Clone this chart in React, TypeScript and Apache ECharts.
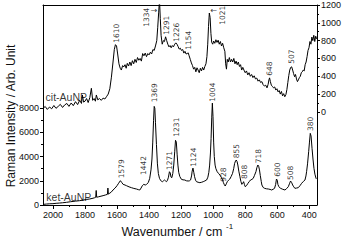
import React, { useEffect, useRef } from 'react';
import * as echarts from 'echarts';

// ---------- axis ticks ----------
const xTicks = [400, 600, 800, 1000, 1200, 1400, 1600, 1800, 2000];
const xMinorTicks = [500, 700, 900, 1100, 1300, 1500, 1700, 1900];
const leftTicks = [0, 2000, 4000, 6000, 8000];
const leftMinorTicks = [1000, 3000, 5000, 7000];
const rightTicks = [0, 200, 400, 600, 800, 1000, 1200];
const rightMinorTicks = [100, 300, 500, 700, 900, 1100];

// ---------- spectra: [wavenumber, intensity] ----------
const ketSpectrum = [
  [2062, 50], [2040, 80], [2020, 100], [2000, 110], [1980, 140], [1960, 160], [1940, 185], [1916, 220],
  [1890, 270], [1860, 320], [1833, 357], [1810, 410], [1790, 460], [1771, 495], [1750, 560], [1740, 600],
  [1733, 640], [1730, 1200], [1727, 640], [1715, 680], [1700, 730], [1687, 771], [1672, 830], [1660, 880],
  [1657, 1400], [1654, 900], [1645, 980], [1635, 1080], [1625, 1239], [1612, 1400], [1600, 1597], [1590, 1800],
  [1579, 2010], [1570, 1850], [1562, 1707], [1550, 1650], [1541, 1597], [1525, 1500], [1510, 1432], [1495, 1370],
  [1479, 1322], [1465, 1260], [1458, 1239], [1450, 1400], [1442, 1600], [1433, 1707], [1424, 1650], [1416, 1707],
  [1405, 1850], [1396, 2203], [1388, 2900], [1382, 3800], [1377, 5200], [1372, 7000], [1368, 8150], [1364, 8000],
  [1360, 6800], [1354, 5000], [1348, 3400], [1342, 2600], [1335, 2200], [1329, 2066], [1322, 1950], [1316, 1928],
  [1310, 2000], [1304, 2066], [1298, 2000], [1291, 1928], [1285, 2050], [1279, 2300], [1273, 2750], [1268, 2650],
  [1263, 2300], [1258, 2258], [1252, 2600], [1246, 3305], [1240, 4400], [1235, 5350], [1230, 5200], [1225, 4200],
  [1220, 3300], [1215, 2700], [1208, 2350], [1198, 2120], [1188, 2080], [1177, 2066], [1167, 2000], [1156, 1983],
  [1148, 2000], [1141, 2066], [1135, 2400], [1131, 2800], [1126, 3050], [1121, 2700], [1116, 2341], [1110, 2050],
  [1104, 1928], [1094, 1880], [1083, 1845], [1072, 1880], [1062, 1928], [1052, 1990], [1041, 2066], [1033, 2300],
  [1027, 2700], [1022, 3300], [1017, 4300], [1013, 5500], [1009, 7200], [1005, 8420], [1001, 7300], [997, 5200],
  [993, 4000], [988, 3300], [983, 3000], [975, 2754], [966, 2600], [958, 2479], [950, 2300], [941, 2066],
  [936, 1850], [931, 1700], [925, 1569], [918, 1750], [912, 1928], [904, 2050], [896, 2148], [888, 2350],
  [879, 2616], [872, 3000], [866, 3443], [860, 3650], [856, 3718], [851, 3600], [846, 3305], [840, 2800],
  [833, 2341], [827, 1950], [821, 1707], [815, 1800], [810, 1928], [805, 1700], [800, 1514], [792, 1600],
  [783, 1790], [775, 1930], [767, 2066], [758, 2120], [750, 2203], [742, 2450], [733, 2754], [727, 3100],
  [721, 3305], [716, 3200], [711, 2900], [706, 2450], [700, 1950], [696, 1652], [688, 1450], [679, 1377],
  [668, 1340], [656, 1322], [645, 1290], [635, 1239], [626, 1300], [617, 1377], [610, 1700], [605, 2148],
  [600, 2050], [596, 1700], [590, 1514], [584, 1420], [579, 1377], [566, 1300], [552, 1239], [542, 1350],
  [531, 1514], [524, 1750], [517, 1983], [510, 1850], [504, 1652], [497, 1500], [490, 1377], [480, 1400],
  [469, 1432], [458, 1600], [448, 1790], [437, 1950], [427, 2066], [421, 2400], [417, 2754], [411, 3400],
  [404, 4407], [399, 5200], [394, 5922], [389, 5700], [383, 4683], [377, 3800], [371, 3030], [365, 2550],
  [358, 2203], [354, 2150],
];

const citSpectrum = [
  [2062, 42], [2048, 60], [2035, 28], [2021, 55], [2008, 35], [1994, 72], [1981, 40], [1967, 62], [1954, 85],
  [1940, 50], [1927, 78], [1913, 95], [1900, 62], [1886, 100], [1873, 70], [1859, 115], [1846, 82], [1833, 130],
  [1822, 95], [1816, 190], [1809, 110], [1800, 120], [1790, 150], [1780, 105], [1770, 160], [1760, 265],
  [1752, 130], [1743, 150], [1735, 120], [1729, 190], [1720, 135], [1710, 150], [1698, 130], [1687, 155],
  [1676, 145], [1666, 170], [1655, 200], [1645, 260], [1635, 390], [1625, 560], [1617, 700], [1610, 755],
  [1603, 740], [1596, 650], [1588, 540], [1580, 490], [1573, 470], [1565, 520], [1558, 505], [1550, 530],
  [1543, 490], [1536, 545], [1528, 515], [1520, 560], [1512, 520], [1504, 575], [1496, 540], [1488, 590],
  [1480, 555], [1472, 610], [1464, 580], [1456, 600], [1448, 570], [1440, 655], [1432, 630], [1424, 660],
  [1416, 620], [1408, 655], [1400, 640], [1392, 670], [1384, 650], [1376, 700], [1368, 690], [1360, 740],
  [1352, 800], [1346, 950], [1340, 1120], [1335, 1260], [1330, 1050], [1325, 860], [1318, 760], [1311, 800],
  [1304, 790], [1297, 843], [1290, 800], [1283, 760], [1276, 730], [1269, 745], [1262, 720], [1255, 745],
  [1248, 730], [1240, 760], [1233, 775], [1226, 760], [1219, 735], [1212, 705], [1205, 715], [1198, 690],
  [1190, 700], [1183, 660], [1176, 680], [1169, 650], [1162, 655], [1156, 663], [1150, 630], [1143, 590],
  [1136, 550], [1129, 520], [1122, 480], [1115, 500], [1108, 450], [1101, 495], [1094, 470], [1087, 440],
  [1080, 490], [1073, 460], [1066, 500], [1059, 470], [1052, 510], [1045, 540], [1039, 620], [1034, 760],
  [1029, 960], [1024, 1110], [1019, 1060], [1014, 880], [1009, 780], [1003, 760], [997, 795], [990, 770],
  [983, 810], [976, 780], [969, 805], [962, 760], [955, 790], [948, 740], [941, 770], [934, 720], [927, 680],
  [922, 540], [917, 480], [912, 590], [906, 560], [899, 610], [892, 560], [885, 590], [878, 560], [871, 600],
  [864, 540], [857, 570], [850, 530], [843, 560], [836, 510], [829, 530], [822, 470], [815, 500], [808, 470],
  [800, 440], [792, 460], [784, 415], [776, 440], [768, 400], [760, 420], [752, 385], [744, 405], [736, 370],
  [728, 380], [720, 345], [712, 360], [704, 330], [696, 340], [688, 305], [680, 290], [672, 300], [664, 270],
  [657, 310], [652, 360], [648, 382], [643, 340], [637, 300], [630, 285], [623, 270], [616, 280], [609, 245],
  [602, 260], [595, 225], [588, 240], [581, 200], [574, 230], [567, 180], [560, 205], [553, 170], [546, 195],
  [540, 250], [534, 330], [528, 410], [522, 470], [516, 500], [510, 506], [504, 470], [498, 430], [492, 395],
  [486, 420], [480, 370], [474, 340], [468, 360], [462, 385], [456, 400], [450, 440], [444, 450], [438, 470],
  [432, 460], [426, 530], [420, 560], [414, 620], [408, 690], [402, 720], [396, 790], [390, 760], [384, 840],
  [378, 800], [372, 860], [366, 790], [360, 850], [354, 820],
];

// ---------- peak annotations: [wavenumber, intensity at label foot, text] ----------
const ketPeakLabels: [number, number, string][] = [
  [1575, 2204, '1579'], [1437, 2479, '1442'], [1364, 8485, '1369'], [1271, 2892, '1271'],
  [1229, 5647, '1231'], [1125, 3168, '1124'], [1004, 8540, '1004'], [933, 1928, '928'],
  [854, 3856, '855'], [806, 2149, '808'], [719, 3443, '718'], [600, 2341, '600'],
  [517, 2066, '508'], [392, 6115, '380'],
];
const citPeakLabels: [number, number, string][] = [
  [1604, 776, '1610'], [1416, 955, '1334'], [1291, 865, '1291'], [1229, 787, '1226'],
  [1156, 697, '1154'], [941, 978, '1021'], [646, 405, '648'], [510, 540, '507'],
];
const citArrows: [number, number, string][] = [
  [1369, 1135, '\u2192'], [996, 1135, '\u2190'],
];
const sampleNames = ['cit-AuNP', 'ket-AuNP'];
const citNamePos = [2046, 169];
const ketNamePos = [2041, 620];

const X_MIN = 352;
const X_MAX = 2062;
const LEFT_MIN = 0;
const LEFT_MAX = 16530;
const RIGHT_MIN = -1045;
const RIGHT_MAX = 1200;

const FONT = '"Liberation Sans", Arial, sans-serif';
const BLACK = '#000';
const plain = (v: number) => String(v);

export default function App() {
  const ref = useRef<HTMLDivElement>(null);

  useEffect(() => {
    if (!ref.current) return;
    const chart = echarts.init(ref.current, null, { renderer: 'svg' });

    const axisBase = {
      type: 'value',
      splitLine: { show: false },
      axisLine: { show: false, onZero: false },
    };
    const lineStyle = { color: BLACK, width: 1 };
    const tickLabel = { show: true, fontSize: 9, color: '#111', fontFamily: FONT, formatter: plain };

    const peakLabelSeries = (data: [number, number, string][], yAxisIndex: number) => ({
      type: 'scatter',
      xAxisIndex: 0,
      yAxisIndex,
      symbolSize: 0,
      silent: true,
      itemStyle: { color: BLACK },
      data: data.map(([w, v, t]) => ({ value: [w, v], name: t })),
      label: {
        show: true,
        position: 'top',
        distance: 0,
        rotate: 90,
        align: 'left',
        verticalAlign: 'middle',
        formatter: '{b}',
        fontFamily: '"DejaVu Sans", sans-serif',
        fontSize: 7.5,
        color: BLACK,
      },
    });

    const option: any = {
      animation: false,
      backgroundColor: '#fff',
      textStyle: { fontFamily: FONT },
      grid: { left: 43, right: 28, top: 5, bottom: 37, outerBoundsMode: 'none' },
      xAxis: [
        {
          ...axisBase,
          position: 'bottom',
          min: X_MIN,
          max: X_MAX,
          inverse: true,
          axisLine: { show: true, onZero: false, lineStyle },
          axisTick: { show: true, length: 4, customValues: xTicks, lineStyle },
          axisLabel: { ...tickLabel, customValues: xTicks, margin: 5 },
        },
        {
          ...axisBase,
          position: 'bottom',
          min: X_MIN,
          max: X_MAX,
          inverse: true,
          axisTick: { show: true, length: 2, customValues: xMinorTicks, lineStyle },
          axisLabel: { show: false },
        },
        {
          ...axisBase,
          position: 'top',
          min: X_MIN,
          max: X_MAX,
          inverse: true,
          axisLine: { show: true, onZero: false, lineStyle },
          axisTick: { show: false },
          axisLabel: { show: false },
        },
      ],
      yAxis: [
        {
          ...axisBase,
          position: 'left',
          min: LEFT_MIN,
          max: LEFT_MAX,
          axisLine: { show: true, onZero: false, lineStyle },
          axisTick: { show: true, length: 3, customValues: leftTicks, lineStyle },
          axisLabel: { ...tickLabel, customValues: leftTicks, margin: 4 },
        },
        {
          ...axisBase,
          position: 'left',
          min: LEFT_MIN,
          max: LEFT_MAX,
          axisTick: { show: true, length: 2, customValues: leftMinorTicks, lineStyle },
          axisLabel: { show: false },
        },
        {
          ...axisBase,
          position: 'right',
          min: RIGHT_MIN,
          max: RIGHT_MAX,
          axisLine: { show: true, onZero: false, lineStyle },
          axisTick: { show: true, length: 3, customValues: rightTicks, lineStyle },
          axisLabel: { ...tickLabel, customValues: rightTicks, margin: 4 },
        },
        {
          ...axisBase,
          position: 'right',
          min: RIGHT_MIN,
          max: RIGHT_MAX,
          axisTick: { show: true, length: 2, customValues: rightMinorTicks, lineStyle },
          axisLabel: { show: false },
        },
      ],
      series: [
        {
          type: 'line',
          name: sampleNames[1],
          xAxisIndex: 0,
          yAxisIndex: 0,
          data: ketSpectrum,
          showSymbol: false,
          symbol: 'none',
          lineStyle: { color: BLACK, width: 1 },
          silent: true,
        },
        {
          type: 'line',
          name: sampleNames[0],
          xAxisIndex: 0,
          yAxisIndex: 2,
          data: citSpectrum,
          showSymbol: false,
          symbol: 'none',
          clip: true,
          lineStyle: { color: BLACK, width: 1 },
          silent: true,
        },
        peakLabelSeries(ketPeakLabels, 0),
        peakLabelSeries(citPeakLabels, 2),
        {
          type: 'scatter',
          xAxisIndex: 0,
          yAxisIndex: 2,
          symbolSize: 0,
          silent: true,
          itemStyle: { color: BLACK },
          data: citArrows.map(([w, v, t]) => ({ value: [w, v], name: t })),
          label: {
            show: true,
            position: 'inside',
            formatter: '{b}',
            fontSize: 8,
            color: BLACK,
            fontFamily: '"DejaVu Sans", sans-serif',
          },
        },
        {
          type: 'scatter',
          xAxisIndex: 0,
          yAxisIndex: 2,
          symbolSize: 0,
          silent: true,
          itemStyle: { color: BLACK },
          data: [{ value: citNamePos, name: sampleNames[0] }],
          label: {
            show: true, position: 'right', distance: 0, align: 'left', verticalAlign: 'middle',
            formatter: '{b}', fontSize: 10.5, color: BLACK, fontFamily: FONT,
          },
        },
        {
          type: 'scatter',
          xAxisIndex: 0,
          yAxisIndex: 0,
          symbolSize: 0,
          silent: true,
          itemStyle: { color: BLACK },
          data: [{ value: ketNamePos, name: sampleNames[1] }],
          label: {
            show: true, position: 'right', distance: 0, align: 'left', verticalAlign: 'middle',
            formatter: '{b}', fontSize: 10.5, color: BLACK, fontFamily: FONT,
          },
        },
      ],
      graphic: [
        {
          type: 'text',
          x: 11,
          y: 116,
          rotation: Math.PI / 2,
          style: {
            text: 'Raman Intensity / Arb. Unit',
            fontSize: 12,
            fontFamily: FONT,
            fill: '#111',
            align: 'center',
            verticalAlign: 'middle',
          },
        },
        {
          type: 'text',
          x: 172,
          y: 232,
          style: {
            text: 'Wavenumber / cm',
            fontSize: 12.5,
            fontFamily: FONT,
            fill: '#111',
            align: 'center',
            verticalAlign: 'middle',
          },
        },
        {
          type: 'text',
          x: 226,
          y: 226,
          style: {
            text: '-1',
            fontSize: 8,
            fontFamily: FONT,
            fill: '#111',
            align: 'left',
            verticalAlign: 'middle',
          },
        },
      ],
    };

    chart.setOption(option);
    return () => chart.dispose();
  }, []);

  return (
    <div
      ref={ref}
      style={{ position: 'fixed', left: 0, top: 0, width: 345, height: 242, background: '#fff' }}
    />
  );
}
